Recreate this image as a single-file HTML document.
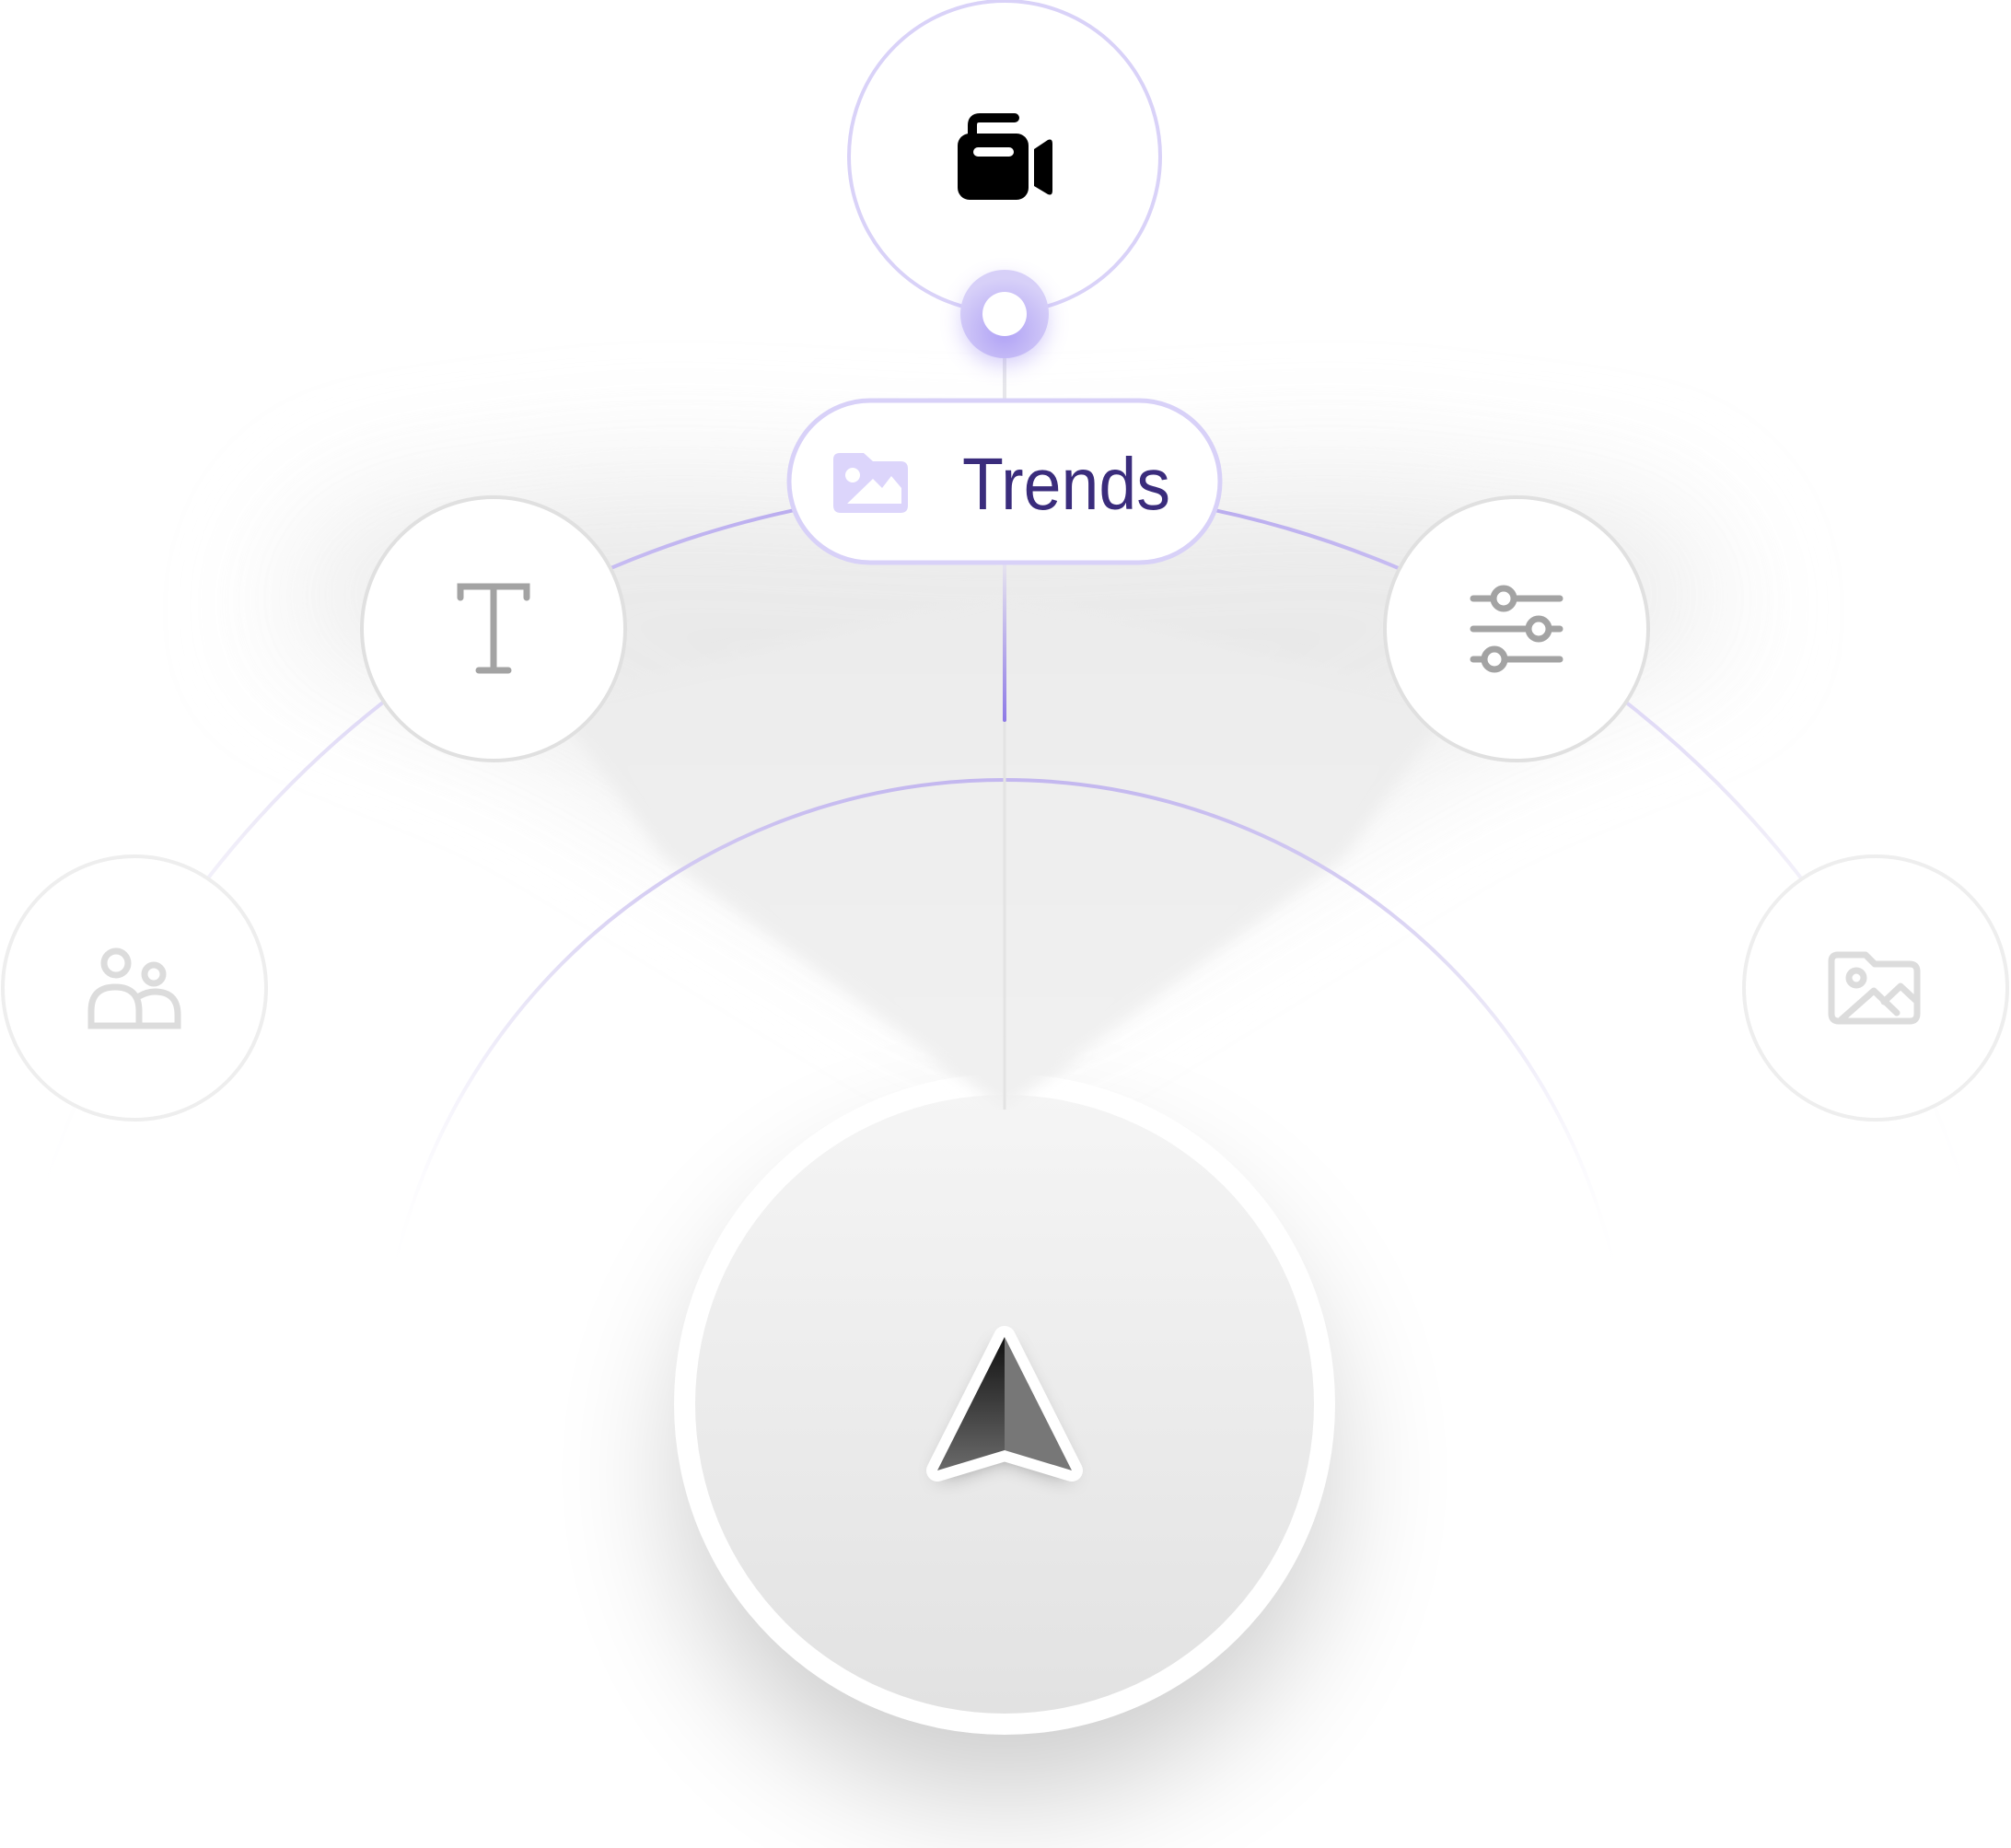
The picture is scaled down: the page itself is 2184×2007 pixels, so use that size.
<!DOCTYPE html>
<html><head><meta charset="utf-8">
<style>
html,body{margin:0;padding:0;background:#fff;width:2184px;height:2007px;overflow:hidden;}
body{position:relative;font-family:"Liberation Sans",sans-serif;}
svg{position:absolute;left:0;top:0;display:block;}
</style></head>
<body>
<svg width="2184" height="2007" viewBox="0 0 2184 2007">
<defs>
  <filter id="blur80" x="-50%" y="-50%" width="200%" height="200%"><feGaussianBlur stdDeviation="70"/></filter>
  <filter id="blur30" x="-50%" y="-50%" width="200%" height="200%"><feGaussianBlur stdDeviation="28"/></filter>
  <filter id="blur12" x="-50%" y="-50%" width="200%" height="200%"><feGaussianBlur stdDeviation="12"/></filter>
  <filter id="blur8" x="-50%" y="-50%" width="200%" height="200%"><feGaussianBlur stdDeviation="8"/></filter>
  <linearGradient id="outerArc" x1="0" y1="530" x2="0" y2="1330" gradientUnits="userSpaceOnUse">
    <stop offset="0" stop-color="#b6a8ee"/>
    <stop offset="0.2" stop-color="#d5cdf5"/>
    <stop offset="0.45" stop-color="#eeebf8"/>
    <stop offset="1" stop-color="#ffffff" stop-opacity="0"/>
  </linearGradient>
  <linearGradient id="innerArc" x1="0" y1="847" x2="0" y2="1400" gradientUnits="userSpaceOnUse">
    <stop offset="0" stop-color="#c3b7ef"/>
    <stop offset="0.4" stop-color="#e6e2f6"/>
    <stop offset="1" stop-color="#ffffff" stop-opacity="0"/>
  </linearGradient>
  <linearGradient id="bigFill" x1="0" y1="0" x2="0" y2="1">
    <stop offset="0" stop-color="#f5f5f5"/>
    <stop offset="1" stop-color="#e2e2e2"/>
  </linearGradient>
  <linearGradient id="vline" x1="0" y1="613" x2="0" y2="785" gradientUnits="userSpaceOnUse">
    <stop offset="0" stop-color="#e6e3ef"/>
    <stop offset="1" stop-color="#8d79e6"/>
  </linearGradient>
  <linearGradient id="arrowL" x1="0" y1="0" x2="0" y2="1">
    <stop offset="0" stop-color="#111"/>
    <stop offset="1" stop-color="#6a6a6a"/>
  </linearGradient>
  <linearGradient id="coneG" x1="0" y1="600" x2="0" y2="1205" gradientUnits="userSpaceOnUse">
    <stop offset="0" stop-color="#ebebeb"/>
    <stop offset="1" stop-color="#f1f1f1"/>
  </linearGradient>
  <radialGradient id="dotG" cx="0.5" cy="0.7" r="0.6">
    <stop offset="0" stop-color="#b0a2f5"/>
    <stop offset="1" stop-color="#d7d0f8"/>
  </radialGradient>
</defs>

<!-- big circle shadow -->
<circle cx="1091" cy="1600" r="350" fill="#000" opacity="0.2" filter="url(#blur80)"/>

<!-- soft cone shadow -->
<g filter="url(#blur80)" opacity="0.85">
  <polygon points="1091,1100 600,800 300,680 380,560 700,520 1091,540 1480,520 1800,560 1880,680 1580,800" fill="#e6e6e6"/>
</g>
<g filter="url(#blur8)">
  <polygon points="1091,1205 720,930 600,760 1091,640 1580,760 1460,930" fill="url(#coneG)"/>
</g>

<!-- outer arc -->
<circle cx="1091" cy="1625" r="1095" fill="none" stroke="url(#outerArc)" stroke-width="4"/>
<!-- inner arc -->
<circle cx="1091" cy="1526" r="679" fill="none" stroke="url(#innerArc)" stroke-width="4"/>

<!-- big circle -->
<circle cx="1091" cy="1525" r="359" fill="#fff"/>
<circle cx="1091" cy="1525" r="336" fill="url(#bigFill)"/>
<!-- cone tip over the ring -->
<polygon points="1091,1205 1010,1145 1172,1145" fill="#f0f0f0" filter="url(#blur8)"/>

<!-- vertical lines -->
<line x1="1091" y1="388" x2="1091" y2="433" stroke="#e6e6ea" stroke-width="4"/>
<line x1="1091" y1="613" x2="1091" y2="1205" stroke="#e3e3e3" stroke-width="3"/>
<line x1="1091" y1="613" x2="1091" y2="782" stroke="url(#vline)" stroke-width="4" stroke-linecap="round"/>

<!-- arrow -->
<g filter="url(#blur12)" opacity="0.5">
  <polygon points="1091,1458 1018,1605 1091,1580 1164,1605" fill="#000"/>
</g>
<polygon points="1091,1452 1018,1597 1091,1575 1164,1597" fill="#fff" stroke="#fff" stroke-width="24" stroke-linejoin="round"/>
<polygon points="1091,1452 1018,1597 1091,1575" fill="url(#arrowL)"/>
<polygon points="1091,1452 1164,1597 1091,1575" fill="#777"/>

<!-- top circle -->
<circle cx="1091" cy="170" r="169" fill="#fff" stroke="#d9d2f8" stroke-width="4"/>
<g>
  <path d="M1056,145 L1056,136 Q1056,128 1064,128 L1102,128" fill="none" stroke="#000" stroke-width="10" stroke-linecap="round"/>
  <rect x="1040" y="145" width="77" height="72" rx="13" fill="#000"/>
  <rect x="1057" y="160" width="44" height="10" rx="5" fill="#fff"/>
  <path d="M1123,162 L1138,152 Q1143,150 1143,156 L1143,207 Q1143,213 1138,211 L1123,202 Z" fill="#000"/>
</g>

<!-- small dot -->
<circle cx="1091" cy="350" r="46" fill="#9d8cf2" opacity="0.45" filter="url(#blur12)"/>
<circle cx="1091" cy="341" r="48" fill="url(#dotG)"/>
<circle cx="1091" cy="341" r="24" fill="#fff"/>

<!-- pill -->
<rect x="857" y="435" width="468" height="176" rx="88" fill="#fff" stroke="#d8d1f8" stroke-width="5"/>
<path d="M912,492 L938,492 L948,501 L978,501 Q986,501 986,509 L986,549 Q986,557 978,557 L913,557 Q905,557 905,549 L905,499 Q905,492 912,492 Z" fill="#dcd5fb"/>
<circle cx="926" cy="516" r="8" fill="#fff"/>
<polygon points="920,547 948,520 958,530 968,517 979,530 979,547" fill="#fff"/>
<text x="1045" y="553" font-size="80" fill="#3a2c7c" font-family="Liberation Sans, sans-serif" textLength="226" lengthAdjust="spacingAndGlyphs">Trends</text>

<!-- T circle -->
<circle cx="536" cy="683" r="143" fill="#fff" stroke="#e0e0e0" stroke-width="4"/>
<g stroke="#a3a3a3" stroke-width="7" stroke-linecap="round" fill="none">
  <path d="M500,649 L500,637 L572,637 L572,649"/>
  <line x1="536" y1="637" x2="536" y2="728"/>
  <line x1="520" y1="728" x2="552" y2="728"/>
</g>

<!-- sliders circle -->
<circle cx="1647" cy="683" r="143" fill="#fff" stroke="#e0e0e0" stroke-width="4"/>
<g stroke="#a3a3a3" stroke-width="7" stroke-linecap="round" fill="none">
  <line x1="1600" y1="650" x2="1620" y2="650"/><line x1="1646" y1="650" x2="1694" y2="650"/>
  <circle cx="1633" cy="650" r="11"/>
  <line x1="1600" y1="683" x2="1658" y2="683"/><line x1="1684" y1="683" x2="1694" y2="683"/>
  <circle cx="1671" cy="683" r="11"/>
  <line x1="1600" y1="716" x2="1610" y2="716"/><line x1="1636" y1="716" x2="1694" y2="716"/>
  <circle cx="1623" cy="716" r="11"/>
</g>

<!-- far left users -->
<circle cx="146" cy="1073" r="143" fill="#fff" stroke="#eeeeee" stroke-width="4"/>
<g stroke="#dcdcdc" stroke-width="7" fill="none" stroke-linecap="round">
  <circle cx="126" cy="1046" r="13"/>
  <circle cx="167" cy="1058" r="10"/>
  <path d="M99,1114 L99,1098 Q99,1072 125,1072 Q151,1072 151,1098 L151,1114 Z"/>
  <path d="M151,1082 Q160,1077 168,1077 Q193,1077 193,1102 L193,1114 L151,1114"/>
</g>

<!-- far right image -->
<circle cx="2037" cy="1073" r="143" fill="#fff" stroke="#eeeeee" stroke-width="4"/>
<g stroke="#dcdcdc" stroke-width="7" fill="none" stroke-linejoin="round" stroke-linecap="round">
  <path d="M1996,1037 L2026,1037 L2036,1047 L2074,1047 Q2082,1047 2082,1055 L2082,1101 Q2082,1109 2074,1109 L1997,1109 Q1989,1109 1989,1101 L1989,1044 Q1989,1037 1996,1037 Z"/>
  <circle cx="2016" cy="1062" r="8"/>
  <path d="M2000,1107 L2035,1076 L2060,1100"/>
  <path d="M2046,1088 L2064,1071 L2080,1086"/>
</g>
</svg>
</body></html>
